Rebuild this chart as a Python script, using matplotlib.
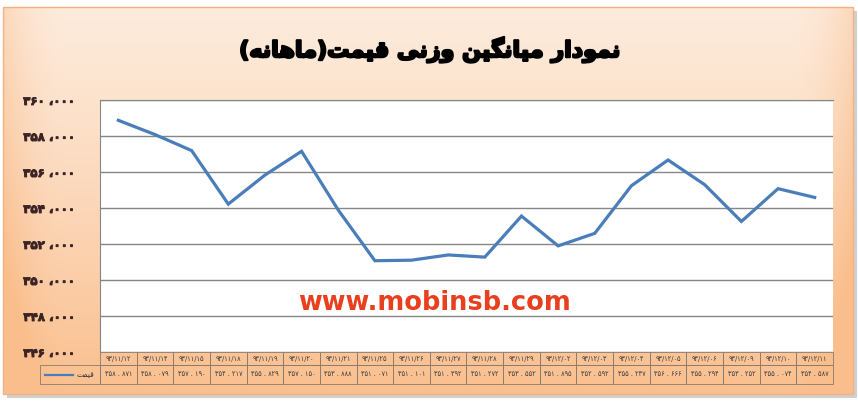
import numpy as np
import matplotlib
matplotlib.use("Agg")
import matplotlib.pyplot as plt
import matplotlib.patheffects as pe
from matplotlib.lines import Line2D
from matplotlib.patches import Rectangle

# ---- data ----
dates = ["93/11/12", "93/11/14", "93/11/15", "93/11/18", "93/11/19",
         "93/11/20", "93/11/21", "93/11/25", "93/11/26", "93/11/27",
         "93/11/28", "93/11/29", "93/12/02", "93/12/03", "93/12/04",
         "93/12/05", "93/12/06", "93/12/09", "93/12/10", "93/12/11"]
prices = [358871, 358079, 357190, 354217, 355829,
          357150, 353888, 351071, 351101, 351392,
          351272, 353552, 351895, 352592, 355237,
          356666, 355294, 353252, 355074, 354587]
yticks = list(range(346000, 360001, 2000))

title = "نمودار میانگین وزنی قیمت(ماهانه)"
series_name = "قیمت"
watermark = "www.mobinsb.com"

FA_DIGITS = str.maketrans("0123456789", "۰۱۲۳۴۵۶۷۸۹")

# isolated, final, initial, medial  (None = does not join to the next letter)
FORMS = {
    "ا": ("\uFE8D", "\uFE8E", None, None),
    "د": ("\uFEA9", "\uFEAA", None, None),
    "ر": ("\uFEAD", "\uFEAE", None, None),
    "ز": ("\uFEAF", "\uFEB0", None, None),
    "و": ("\uFEED", "\uFEEE", None, None),
    "ت": ("\uFE95", "\uFE96", "\uFE97", "\uFE98"),
    "ق": ("\uFED5", "\uFED6", "\uFED7", "\uFED8"),
    "م": ("\uFEE1", "\uFEE2", "\uFEE3", "\uFEE4"),
    "ن": ("\uFEE5", "\uFEE6", "\uFEE7", "\uFEE8"),
    "ه": ("\uFEE9", "\uFEEA", "\uFEEB", "\uFEEC"),
    "ی": ("\uFBFC", "\uFBFD", "\uFBFE", "\uFBFF"),
    "گ": ("\uFB92", "\uFB93", "\uFB94", "\uFB95"),
}


def shape_fa(s):
    # tiny arabic shaping + right-to-left reordering, matplotlib does neither
    out = []
    for i, ch in enumerate(s):
        if ch not in FORMS:
            out.append(ch)
            continue
        prev = s[i - 1] if i > 0 else ""
        nxt = s[i + 1] if i + 1 < len(s) else ""
        jp = prev in FORMS and FORMS[prev][2] is not None
        jn = nxt in FORMS and FORMS[ch][2] is not None
        iso, fin, ini, med = FORMS[ch]
        out.append(med if jp and jn else fin if jp else ini if jn else iso)
    mirror = {"(": ")", ")": "("}
    return "".join(mirror.get(c, c) for c in reversed(out))


W, H = 858, 403
fig = plt.figure(figsize=(W / 100, H / 100), dpi=100)
fig.patch.set_facecolor("white")

# background frame with peach -> orange gradient
bg = fig.add_axes([0, 0, 1, 1], zorder=-5)
bg.set_xlim(0, W); bg.set_ylim(H, 0); bg.axis("off")
fx0, fx1, fy0, fy1 = 3, 853, 7, 394
bg.add_patch(Rectangle((fx0 + 4, fy0 + 4), fx1 - fx0, fy1 - fy0,
                       facecolor="#cfcfcf", edgecolor="none", zorder=-2))
gy, gx = np.mgrid[0:1:200j, 0:1:400j]
edge = np.clip((np.abs(gx - 0.5) * 2 - 0.85) / 0.15, 0, 1) ** 2
t = np.clip(0.03 + 0.95 * gy ** 1.2 + 0.4 * edge, 0, 1)
top = np.array([253, 236, 222]) / 255
bot = np.array([250, 190, 140]) / 255
img = top[None, None, :] * (1 - t[..., None]) + bot[None, None, :] * t[..., None]
bg.imshow(img, extent=[fx0, fx1, fy1, fy0], aspect="auto",
          interpolation="bilinear", zorder=0)
bg.add_patch(Rectangle((fx0, fy0), fx1 - fx0, fy1 - fy0, facecolor="none",
                       edgecolor="#f4b183", linewidth=1, zorder=1))

fig.text(0.501, 1 - 50 / H, shape_fa(title), ha="center", va="center",
         fontsize=16, fontweight="bold", family="DejaVu Sans", color="black",
         path_effects=[pe.withStroke(linewidth=1.6, foreground="black")])

# plot area
ax = fig.add_axes([100 / W, 1 - 352 / H, 733 / W, 252 / H])
ax.set_facecolor("white")
x = np.arange(len(dates))
ax.plot(x, prices, color="#4a7ebb", linewidth=2.3, solid_joinstyle="miter")
ax.set_xlim(-0.5, len(dates) - 0.5)
ax.set_ylim(yticks[0], yticks[-1])
ax.set_yticks(yticks)
ax.set_yticklabels([f"{v // 1000} ،{v % 1000:03d}".translate(FA_DIGITS) for v in yticks],
                   fontsize=8.5, fontweight="bold", color="#3a2424", family="DejaVu Sans")
ax.tick_params(axis="y", length=0, pad=18)
for lbl in ax.get_yticklabels():
    lbl.set_path_effects([pe.withStroke(linewidth=0.6, foreground="#3a2424")])
ax.set_xticks([])
ax.yaxis.grid(True, color="#868686", linewidth=1)
ax.set_axisbelow(True)
for side in ("top", "left"):
    ax.spines[side].set_color("#868686")
ax.spines["right"].set_visible(False)
ax.spines["bottom"].set_visible(False)

ax.text(0.456, 0.195, watermark, transform=ax.transAxes, ha="center", va="center",
        fontsize=18.5, fontweight="bold", family="DejaVu Sans", color="#e8401e")

# data table under the plot
lab_w = 60 / 733
h_head, h_val = 13 / 252, 19 / 252
cell_text = [[f"{v // 1000} . {v % 1000:03d}".translate(FA_DIGITS) for v in prices]]
tab = ax.table(cellText=cell_text,
               colLabels=[d.translate(FA_DIGITS) for d in dates],
               colWidths=[1 / len(dates)] * len(dates),
               cellLoc="center",
               bbox=[0, -(h_head + h_val), 1, h_head + h_val])
tab.add_cell(1, -1, width=lab_w, height=h_val, text=shape_fa(series_name), loc="right")
tab.auto_set_font_size(False)
tab.set_fontsize(4.8)
for (r, c), cell in tab.get_celld().items():
    cell.set_facecolor("none")
    cell.set_edgecolor("#8c7b6e")
    cell.set_linewidth(0.6)
    cell.set_height(h_head if r == 0 else h_val)
    cell.get_text().set_color("#3c3c3c")
    cell.get_text().set_family("DejaVu Sans")
    if c == -1:
        cell.get_text().set_fontsize(5.5)

ax.add_line(Line2D([-55 / 733, -27 / 733], [-(h_head + h_val / 2)] * 2,
                   transform=ax.transAxes, color="#4a7ebb", linewidth=1.6, clip_on=False))

fig.savefig("out.png", dpi=100)
